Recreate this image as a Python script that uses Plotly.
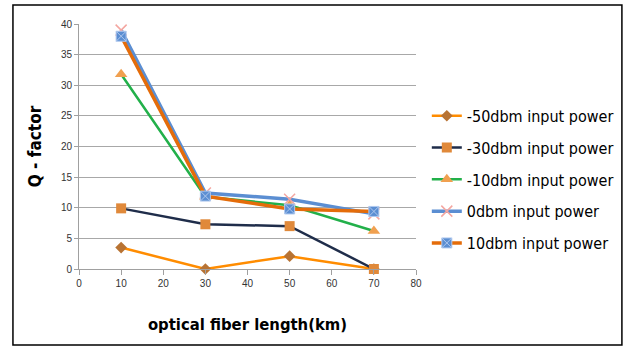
import plotly.graph_objects as go

x_km = [10, 30, 50, 70]
names = ["-50dbm input power", "-30dbm input power", "-10dbm input power",
         "0dbm input power", "10dbm input power"]
q_m50 = [3.5, 0.0, 2.1, 0.0]
q_m30 = [9.9, 7.3, 7.0, 0.0]
q_m10 = [31.8, 11.8, 10.4, 6.2]
q_0 = [39.0, 12.4, 11.4, 9.0]
q_10 = [38.0, 11.9, 9.8, 9.4]

series = [q_m50, q_m30, q_m10, q_0, q_10]
line_colors = ["#FF8C00", "#1F2D4A", "#22B04A", "#5B8ED2", "#E46C0A"]
markers = [
    dict(symbol="diamond", size=9, color="#B87333"),
    dict(symbol="square", size=10, color="#E0893A"),
    dict(symbol="triangle-up", size=11, color="#F0A050"),
    dict(symbol="x-thin", size=11, color="#F4A6A0", line=dict(width=1.5, color="#F4A6A0")),
    dict(symbol="square-x", size=10, color="#5B8ED2", line=dict(width=1, color="#AFC8EE")),
]
widths = [2.5, 2.5, 2.5, 3.5, 3.5]

cond = "DejaVu Sans Condensed, Liberation Sans Narrow, Liberation Sans"

fig = go.Figure()
for i, (n, ys) in enumerate(zip(names, series)):
    fig.add_trace(go.Scatter(
        x=x_km, y=ys, name=n, mode="lines+markers",
        line=dict(color=line_colors[i], width=widths[i]),
        marker=markers[i], cliponaxis=False, legendgroup=f"g{i}",
    ))

fig.update_layout(
    width=624, height=348,
    margin=dict(l=79, r=208, t=24, b=79, autoexpand=False),
    paper_bgcolor="white", plot_bgcolor="white",
    font=dict(family="Liberation Sans", color="#222"),
    showlegend=True,
    legend=dict(xref="container", yref="container", x=0.684, y=0.716,
                xanchor="left", yanchor="top",
                font=dict(family=cond, size=16, color="black"),
                tracegroupgap=8, bgcolor="rgba(0,0,0,0)"),
    xaxis=dict(range=[0, 80], dtick=10, tick0=0, showgrid=False, zeroline=False,
               showline=True, linecolor="#A0A0A0", ticks="outside", ticklen=5,
               tickcolor="#A0A0A0", tickfont=dict(size=10, color="#333"),
               title=dict(text="<b>optical fiber length(km)</b>",
                          font=dict(family=cond, size=16.5, color="black"),
                          standoff=30)),
    yaxis=dict(range=[0, 40], dtick=5, showgrid=True, gridcolor="#A8A8A8", gridwidth=1,
               zeroline=False, showline=True, linecolor="#A0A0A0", ticks="outside",
               ticklen=4, tickcolor="#A0A0A0", tickfont=dict(size=10, color="#333"),
               title=dict(text="<b>Q - factor</b>",
                          font=dict(family=cond, size=17, color="black"),
                          standoff=14)),
)
fig.add_shape(type="rect", xref="paper", yref="paper",
              x0=-0.196, x1=1.611, y0=-0.31, y1=1.078,
              line=dict(color="black", width=1.5), fillcolor="rgba(0,0,0,0)")

fig.write_html("out.html")
